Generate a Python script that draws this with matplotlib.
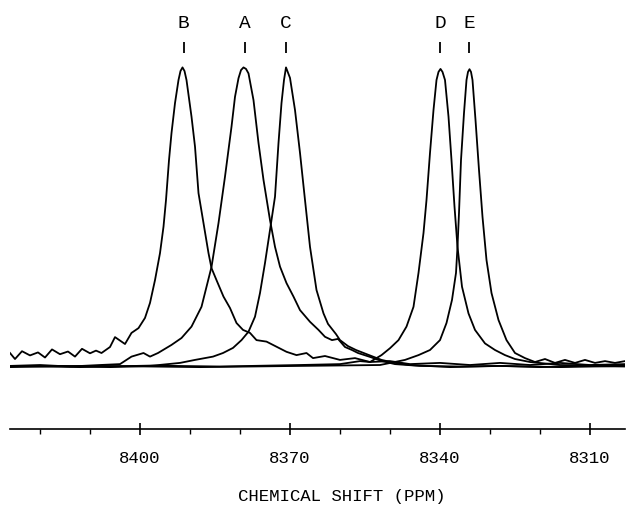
"""
Overlay of five NMR spectra (peaks A-E) on a common chemical shift scale.
"""
import matplotlib.pyplot as plt
from matplotlib.ticker import FixedLocator

FONT = ['Liberation Mono', 'DejaVu Sans Mono']

# Spectrum B
B_PPM = [8426, 8425, 8423.6, 8422, 8420.4, 8419, 8417.6, 8416, 8414.4, 8413,
         8411.6, 8410, 8408.8, 8407.7, 8406, 8405, 8403, 8401.7, 8400.3, 8399,
         8398, 8397, 8396, 8395.3, 8394.8, 8394.2, 8393.7, 8393, 8392.3, 8391.9,
         8391.5, 8391.1, 8390.7, 8389.7, 8389, 8388.3, 8387.3, 8386.3, 8385.7,
         8384.7, 8383.3, 8382, 8380.7, 8379.4, 8378, 8376.7, 8374.7, 8372.7,
         8370.7, 8368.7, 8366.7, 8365.4, 8363, 8360, 8357, 8354, 8350, 8346,
         8340, 8334, 8328, 8322, 8316, 8310, 8303]
B_INT = [5.0, 3.0, 5.6, 4.2, 5.2, 3.5, 6.2, 4.6, 5.5, 3.8,
         6.4, 4.9, 5.8, 5.0, 7.0, 10.3, 8.0, 11.7, 13.3, 16.7,
         21.7, 29.3, 38.3, 47.1, 56.0, 69.3, 78.3, 88.3, 96.0, 99.0,
         100.2, 99.0, 96.0, 83.8, 73.8, 58.3, 48.3, 38.3, 33.3,
         29.3, 23.8, 20.0, 15.0, 12.7, 11.7, 9.3, 8.8, 7.1,
         5.4, 4.3, 5.0, 3.3, 4.0, 2.7, 3.3, 2.0, 2.3, 1.3,
         1.7, 1.0, 1.7, 1.0, 1.7, 1.0, 1.3]

# Spectrum A
A_PPM = [8426, 8420, 8414, 8408, 8404, 8401.7, 8399.3, 8398, 8396.4, 8393.7,
         8391.7, 8389.7, 8387.7, 8385.7, 8384.3, 8383, 8381.7, 8381, 8380.3,
         8379.8, 8379.3, 8378.8, 8378.3, 8377.3, 8376.3, 8375.3, 8374, 8373,
         8372, 8370.7, 8369.3, 8368, 8366, 8364.3, 8363, 8361.6, 8360.4, 8359,
         8357.6, 8356.4, 8354, 8351.6, 8349, 8344, 8336, 8328, 8320, 8312, 8303]
A_INT = [0.7, 1.0, 0.5, 1.0, 1.3, 3.8, 5.0, 3.8, 5.0, 7.7,
         10.0, 13.8, 20.4, 33.7, 48.3, 63.8, 80.4, 90.4, 96.6,
         99.3, 100.2, 99.7, 98.2, 89.3, 75.0, 62.7, 49.3, 40.4,
         33.8, 28.3, 23.8, 19.3, 15.4, 12.7, 10.4, 9.3, 9.7, 7.0,
         6.0, 5.0, 3.7, 2.3, 1.3, 0.7, 0.5, 0.7, 0.3, 0.7, 0.5]

# Spectrum C
C_PPM = [8426, 8416, 8406, 8398, 8392, 8389, 8385.4, 8383.4, 8381.4, 8379.7,
         8378.3, 8377, 8376, 8375, 8374, 8373, 8372.3, 8371.7, 8371.2, 8370.8,
         8370, 8369, 8368, 8367, 8366, 8364.7, 8363.3, 8362.4, 8360.8, 8360,
         8358.4, 8356.8, 8354.8, 8351.7, 8349, 8346, 8338, 8328, 8316, 8303]
C_INT = [0.3, 0.7, 0.3, 0.7, 1.7, 2.7, 3.8, 5.0, 6.7, 9.3,
         12.1, 17.1, 25.0, 35.0, 46.0, 57.1, 75.0, 88.3, 96.0, 100.2,
         96.7, 86.0, 71.7, 56.0, 40.4, 26.0, 18.2, 14.7, 11.3, 9.3,
         7.3, 6.0, 4.7, 2.7, 1.7, 1.0, 0.3, 0.7, 0.3, 0.7]

# Spectrum D
D_PPM = [8426, 8412, 8398, 8384, 8368, 8360, 8356, 8354, 8351.7, 8350,
         8348.3, 8346.7, 8345.3, 8344.3, 8343.3, 8342.7, 8342, 8341.3, 8340.7,
         8340.3, 8339.9, 8339.5, 8339, 8338.3, 8337.7, 8337.1, 8336.5, 8335.6,
         8334.3, 8333, 8331, 8329, 8327, 8325, 8322, 8316, 8303]
D_INT = [0.7, 0.3, 0.8, 0.5, 1.0, 1.3, 2.3, 2.0, 4.3, 6.6,
         9.3, 13.8, 20.4, 31.7, 45.0, 56.0, 71.7, 86.0, 96.0,
         98.7, 99.7, 98.7, 96.0, 83.8, 69.3, 53.8, 40.4, 27.1,
         18.2, 12.7, 8.2, 6.0, 4.3, 3.0, 2.0, 1.0, 0.7]

# Spectrum E
E_PPM = [8426, 8408, 8388, 8368, 8352, 8347, 8344.3, 8342, 8340, 8338.7,
         8337.6, 8336.8, 8336.5, 8336.2, 8335.8, 8335.2, 8334.7, 8334.4, 8334.1,
         8333.8, 8333.5, 8332.9, 8332.2, 8331.5, 8330.7, 8329.7, 8328.3,
         8326.7, 8325, 8323, 8321, 8319, 8317, 8315, 8313, 8311, 8309, 8307,
         8305, 8303]
E_INT = [0.5, 0.7, 0.3, 0.7, 1.0, 2.7, 4.3, 6.0, 9.3, 15.0,
         22.7, 31.7, 40.4, 51.7, 69.3, 85.0, 96.0, 98.7, 99.6,
         98.7, 96.0, 82.7, 66.0, 50.4, 36.0, 25.0, 16.0,
         9.3, 5.0, 3.3, 2.0, 3.0, 1.7, 2.7, 1.7, 2.7, 1.7, 2.3,
         1.7, 2.3]

PEAK_NAMES = ['B', 'A', 'C', 'D', 'E']
PEAK_PPM = [8391.3, 8379.1, 8370.9, 8340.0, 8334.2]

MAJOR_TICKS = [8400, 8370, 8340, 8310]
MINOR_TICKS = [8420, 8410, 8390, 8380, 8360, 8350, 8330, 8320]


def build_figure():
    """Draw the stacked spectra and the ppm scale below them."""
    fig = plt.figure(figsize=(6.35, 5.05), dpi=100)
    ax = fig.add_axes([10 / 635, 1 - 429 / 505, 615 / 635, 429 / 505])

    for x, y in [(B_PPM, B_INT), (A_PPM, A_INT), (C_PPM, C_INT),
                 (D_PPM, D_INT), (E_PPM, E_INT)]:
        ax.plot(x, y, color='black', linewidth=1.3, solid_joinstyle='round')

    # peak letters with their small marker bars
    for name, ppm in zip(PEAK_NAMES, PEAK_PPM):
        ax.text(ppm, 115, name, ha='center', va='center', fontsize=14,
                family=FONT, clip_on=False)
    ax.vlines(PEAK_PPM, 105, 108.7, color='black', linewidth=1.3)

    ax.set_xlim(8426, 8303)
    ax.set_ylim(-20.33, 122.67)

    for side in ['top', 'left', 'right']:
        ax.spines[side].set_visible(False)
    ax.spines['bottom'].set_linewidth(1.2)
    ax.set_yticks([])

    ax.xaxis.set_major_locator(FixedLocator(MAJOR_TICKS))
    ax.xaxis.set_minor_locator(FixedLocator(MINOR_TICKS))
    ax.tick_params(axis='x', which='major', direction='inout', length=8.5,
                   width=1.2, pad=11.5, labelsize=12.5)
    ax.tick_params(axis='x', which='minor', direction='out', length=3.5,
                   width=1.0)
    for label in ax.get_xticklabels():
        label.set_family(FONT)

    fig.text(341.7 / 635, 1 - 497 / 505, 'CHEMICAL SHIFT (PPM)', ha='center',
             va='center', fontsize=12.5, family=FONT)

    plt.savefig('out.png', dpi=100)


if __name__ == "__main__":
    build_figure()
